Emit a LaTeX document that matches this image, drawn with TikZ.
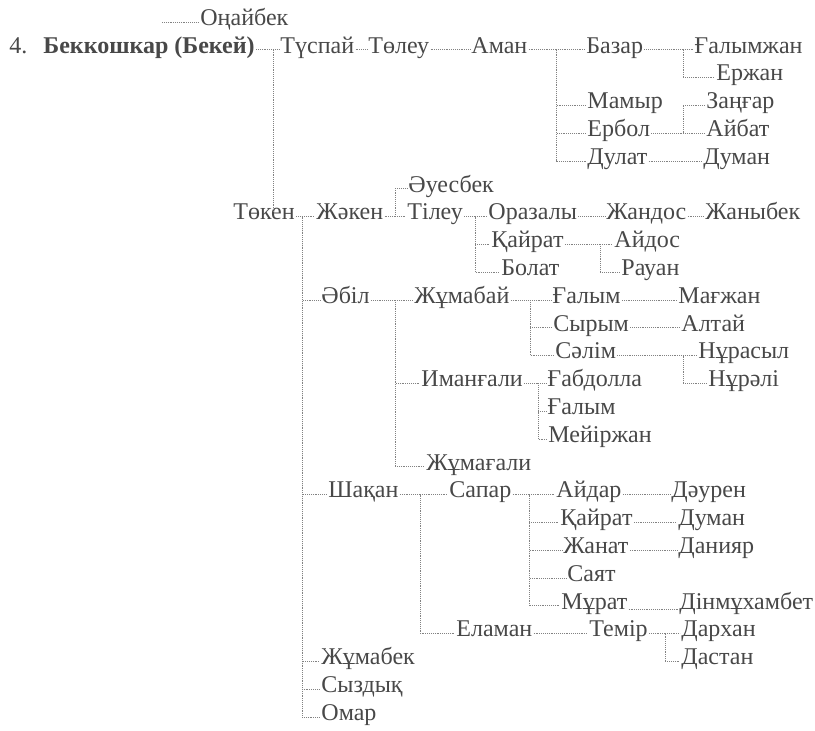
\documentclass[tikz,border=0pt]{standalone}
\usepackage{fontspec}
\setmainfont{Liberation Serif}
\usepackage{tikz}
\usetikzlibrary{calc}
\definecolor{inkgray}{RGB}{72,72,72}
\definecolor{linegray}{RGB}{130,130,130}
\tikzset{
  person/.style={anchor=west,inner xsep=1pt,inner ysep=0pt,text height=1.5ex,text depth=0.25ex,
    text=inkgray,font=\fontsize{20.5}{24}\selectfont},
  headperson/.style={person,font=\fontsize{20.5}{24}\selectfont\bfseries},
  link/.style={draw=linegray,line width=0.6pt,densely dotted}
}
\begin{document}
\begin{tikzpicture}[x=0.03cm,y=-0.834cm]
  \useasboundingbox (0,-0.791) rectangle (815,25.468);
  % top rows
  \coordinate (onaitail) at (162,0);
  \node[person] (onaibek) at (199,0) {Оңайбек};
  \node[person] (numfour) at (8,1) {4.};
  \node[headperson] (bekkoshkar) at (42,1) {Беккошкар (Бекей)};
  \node[person] (tuspai) at (279,1) {Түспай};
  \node[person] (toleu) at (367,1) {Төлеу};
  \node[person] (aman) at (470,1) {Аман};
  \node[person] (bazar) at (585,1) {Базар};
  \node[person] (galymzhan) at (693,1) {Ғалымжан};
  \node[person] (erzhan) at (715,2) {Ержан};
  \node[person] (mamyr) at (586,3) {Мамыр};
  \node[person] (zangar) at (705,3) {Заңғар};
  \node[person] (erbol) at (586,4) {Ербол};
  \node[person] (aibat) at (705,4) {Айбат};
  \node[person] (dulat) at (586,5) {Дулат};
  \node[person] (duman) at (702,5) {Думан};
  % Token branch
  \node[person] (auesbek) at (407,6) {Әуесбек};
  \node[person] (token) at (232,7) {Төкен};
  \node[person] (zhaken) at (315,7) {Жәкен};
  \node[person] (tileu) at (406,7) {Тілеу};
  \node[person] (orazaly) at (487,7) {Оразалы};
  \node[person] (zhandos) at (605,7) {Жандос};
  \node[person] (zhanybek) at (704,7) {Жаныбек};
  \node[person] (qairat) at (490,8) {Қайрат};
  \node[person] (aidos) at (613,8) {Айдос};
  \node[person] (bolat) at (500,9) {Болат};
  \node[person] (rauan) at (620,9) {Рауан};
  \node[person] (abil) at (320,10) {Әбіл};
  \node[person] (zhumabai) at (413,10) {Жұмабай};
  \node[person] (galym) at (551,10) {Ғалым};
  \node[person] (magzhan) at (677,10) {Мағжан};
  \node[person] (syrym) at (552,11) {Сырым};
  \node[person] (altai) at (680,11) {Алтай};
  \node[person] (salim) at (554,12) {Сәлім};
  \node[person] (nurasyl) at (697,12) {Нұрасыл};
  \node[person] (imangali) at (420,13) {Иманғали};
  \node[person] (gabdolla) at (546,13) {Ғабдолла};
  \node[person] (nurali) at (707,13) {Нұрәлі};
  \node[person] (galymb) at (546,14) {Ғалым};
  \node[person] (meirzhan) at (547,15) {Мейіржан};
  \node[person] (zhumagali) at (425,16) {Жұмағали};
  \node[person] (shaqan) at (327,17) {Шақан};
  \node[person] (sapar) at (448,17) {Сапар};
  \node[person] (aidar) at (555,17) {Айдар};
  \node[person] (dauren) at (670,17) {Дәурен};
  \node[person] (qairatb) at (559,18) {Қайрат};
  \node[person] (dumanb) at (677,18) {Думан};
  \node[person] (zhanat) at (562,19) {Жанат};
  \node[person] (daniiar) at (677,19) {Данияр};
  \node[person] (saiat) at (566,20) {Саят};
  \node[person] (murat) at (560,21) {Мұрат};
  \node[person] (dinmukhambet) at (678,21) {Дінмұхамбет};
  \node[person] (elaman) at (455,22) {Еламан};
  \node[person] (temir) at (588,22) {Темір};
  \node[person] (darkhan) at (680,22) {Дархан};
  \node[person] (dastan) at (680,23) {Дастан};
  \node[person] (zhumabek) at (320,23) {Жұмабек};
  \node[person] (syzdyq) at (320,24) {Сыздық};
  \node[person] (omar) at (320,25) {Омар};
  % bus points of the brackets
  \coordinate (bekbus) at (273,1);
  \coordinate (amanbus) at (556,1);
  \coordinate (bazarbus) at (683,1);
  \coordinate (erbolbus) at (683,4);
  \coordinate (tokenbus) at (302,7);
  \coordinate (zhakenbus) at (395,7);
  \coordinate (tileubus) at (475,7);
  \coordinate (qairatbus) at (600,8);
  \coordinate (abilbus) at (395,10);
  \coordinate (zhumabaibus) at (530,10);
  \coordinate (salimbus) at (683,12);
  \coordinate (imangalibus) at (538,13);
  \coordinate (shaqanbus) at (420,17);
  \coordinate (saparbus) at (529,17);
  \coordinate (temirbus) at (665,22);
  % connectors
  \draw[link] (onaitail) -- (onaibek.west);
  \draw[link] (bekkoshkar.east) -- (tuspai.west);
  \draw[link] (bekbus) -- (token.north -| bekbus);
  \draw[link] (tuspai.east) -- (toleu.west);
  \draw[link] (toleu.east) -- (aman.west);
  \draw[link] (aman.east) -- (amanbus);
  \foreach \c in {bazar,mamyr,erbol,dulat} \draw[link] (amanbus) |- (\c.west);
  \draw[link] (bazar.east) -- (bazarbus);
  \foreach \c in {galymzhan,erzhan} \draw[link] (bazarbus) |- (\c.west);
  \draw[link] (erbol.east) -- (erbolbus);
  \foreach \c in {zangar,aibat} \draw[link] (erbolbus) |- (\c.west);
  \draw[link] (dulat.east) -- (duman.west);
  \draw[link] (token.east) -- (tokenbus);
  \foreach \c in {zhaken,abil,shaqan,zhumabek,syzdyq,omar} \draw[link] (tokenbus) |- (\c.west);
  \draw[link] (zhaken.east) -- (zhakenbus);
  \foreach \c in {auesbek,tileu} \draw[link] (zhakenbus) |- (\c.west);
  \draw[link] (tileu.east) -- (tileubus);
  \foreach \c in {orazaly,qairat,bolat} \draw[link] (tileubus) |- (\c.west);
  \draw[link] (orazaly.east) -- (zhandos.west);
  \draw[link] (zhandos.east) -- (zhanybek.west);
  \draw[link] (qairat.east) -- (qairatbus);
  \foreach \c in {aidos,rauan} \draw[link] (qairatbus) |- (\c.west);
  \draw[link] (abil.east) -- (abilbus);
  \foreach \c in {zhumabai,imangali,zhumagali} \draw[link] (abilbus) |- (\c.west);
  \draw[link] (zhumabai.east) -- (zhumabaibus);
  \foreach \c in {galym,syrym,salim} \draw[link] (zhumabaibus) |- (\c.west);
  \draw[link] (galym.east) -- (magzhan.west);
  \draw[link] (syrym.east) -- (altai.west);
  \draw[link] (salim.east) -- (salimbus);
  \foreach \c in {nurasyl,nurali} \draw[link] (salimbus) |- (\c.west);
  \draw[link] (imangali.east) -- (imangalibus);
  \foreach \c in {gabdolla,galymb,meirzhan} \draw[link] (imangalibus) |- (\c.west);
  \draw[link] (shaqan.east) -- (shaqanbus);
  \foreach \c in {sapar,elaman} \draw[link] (shaqanbus) |- (\c.west);
  \draw[link] (sapar.east) -- (saparbus);
  \foreach \c in {aidar,qairatb,zhanat,saiat,murat} \draw[link] (saparbus) |- (\c.west);
  \draw[link] (aidar.east) -- (dauren.west);
  \draw[link] (qairatb.east) -- (dumanb.west);
  \draw[link] (zhanat.east) -- (daniiar.west);
  \draw[link] (murat.base east) -- (dinmukhambet.base west);
  \draw[link] (elaman.east) -- (temir.west);
  \draw[link] (temir.east) -- (temirbus);
  \foreach \c in {darkhan,dastan} \draw[link] (temirbus) |- (\c.west);
\end{tikzpicture}
\end{document}
